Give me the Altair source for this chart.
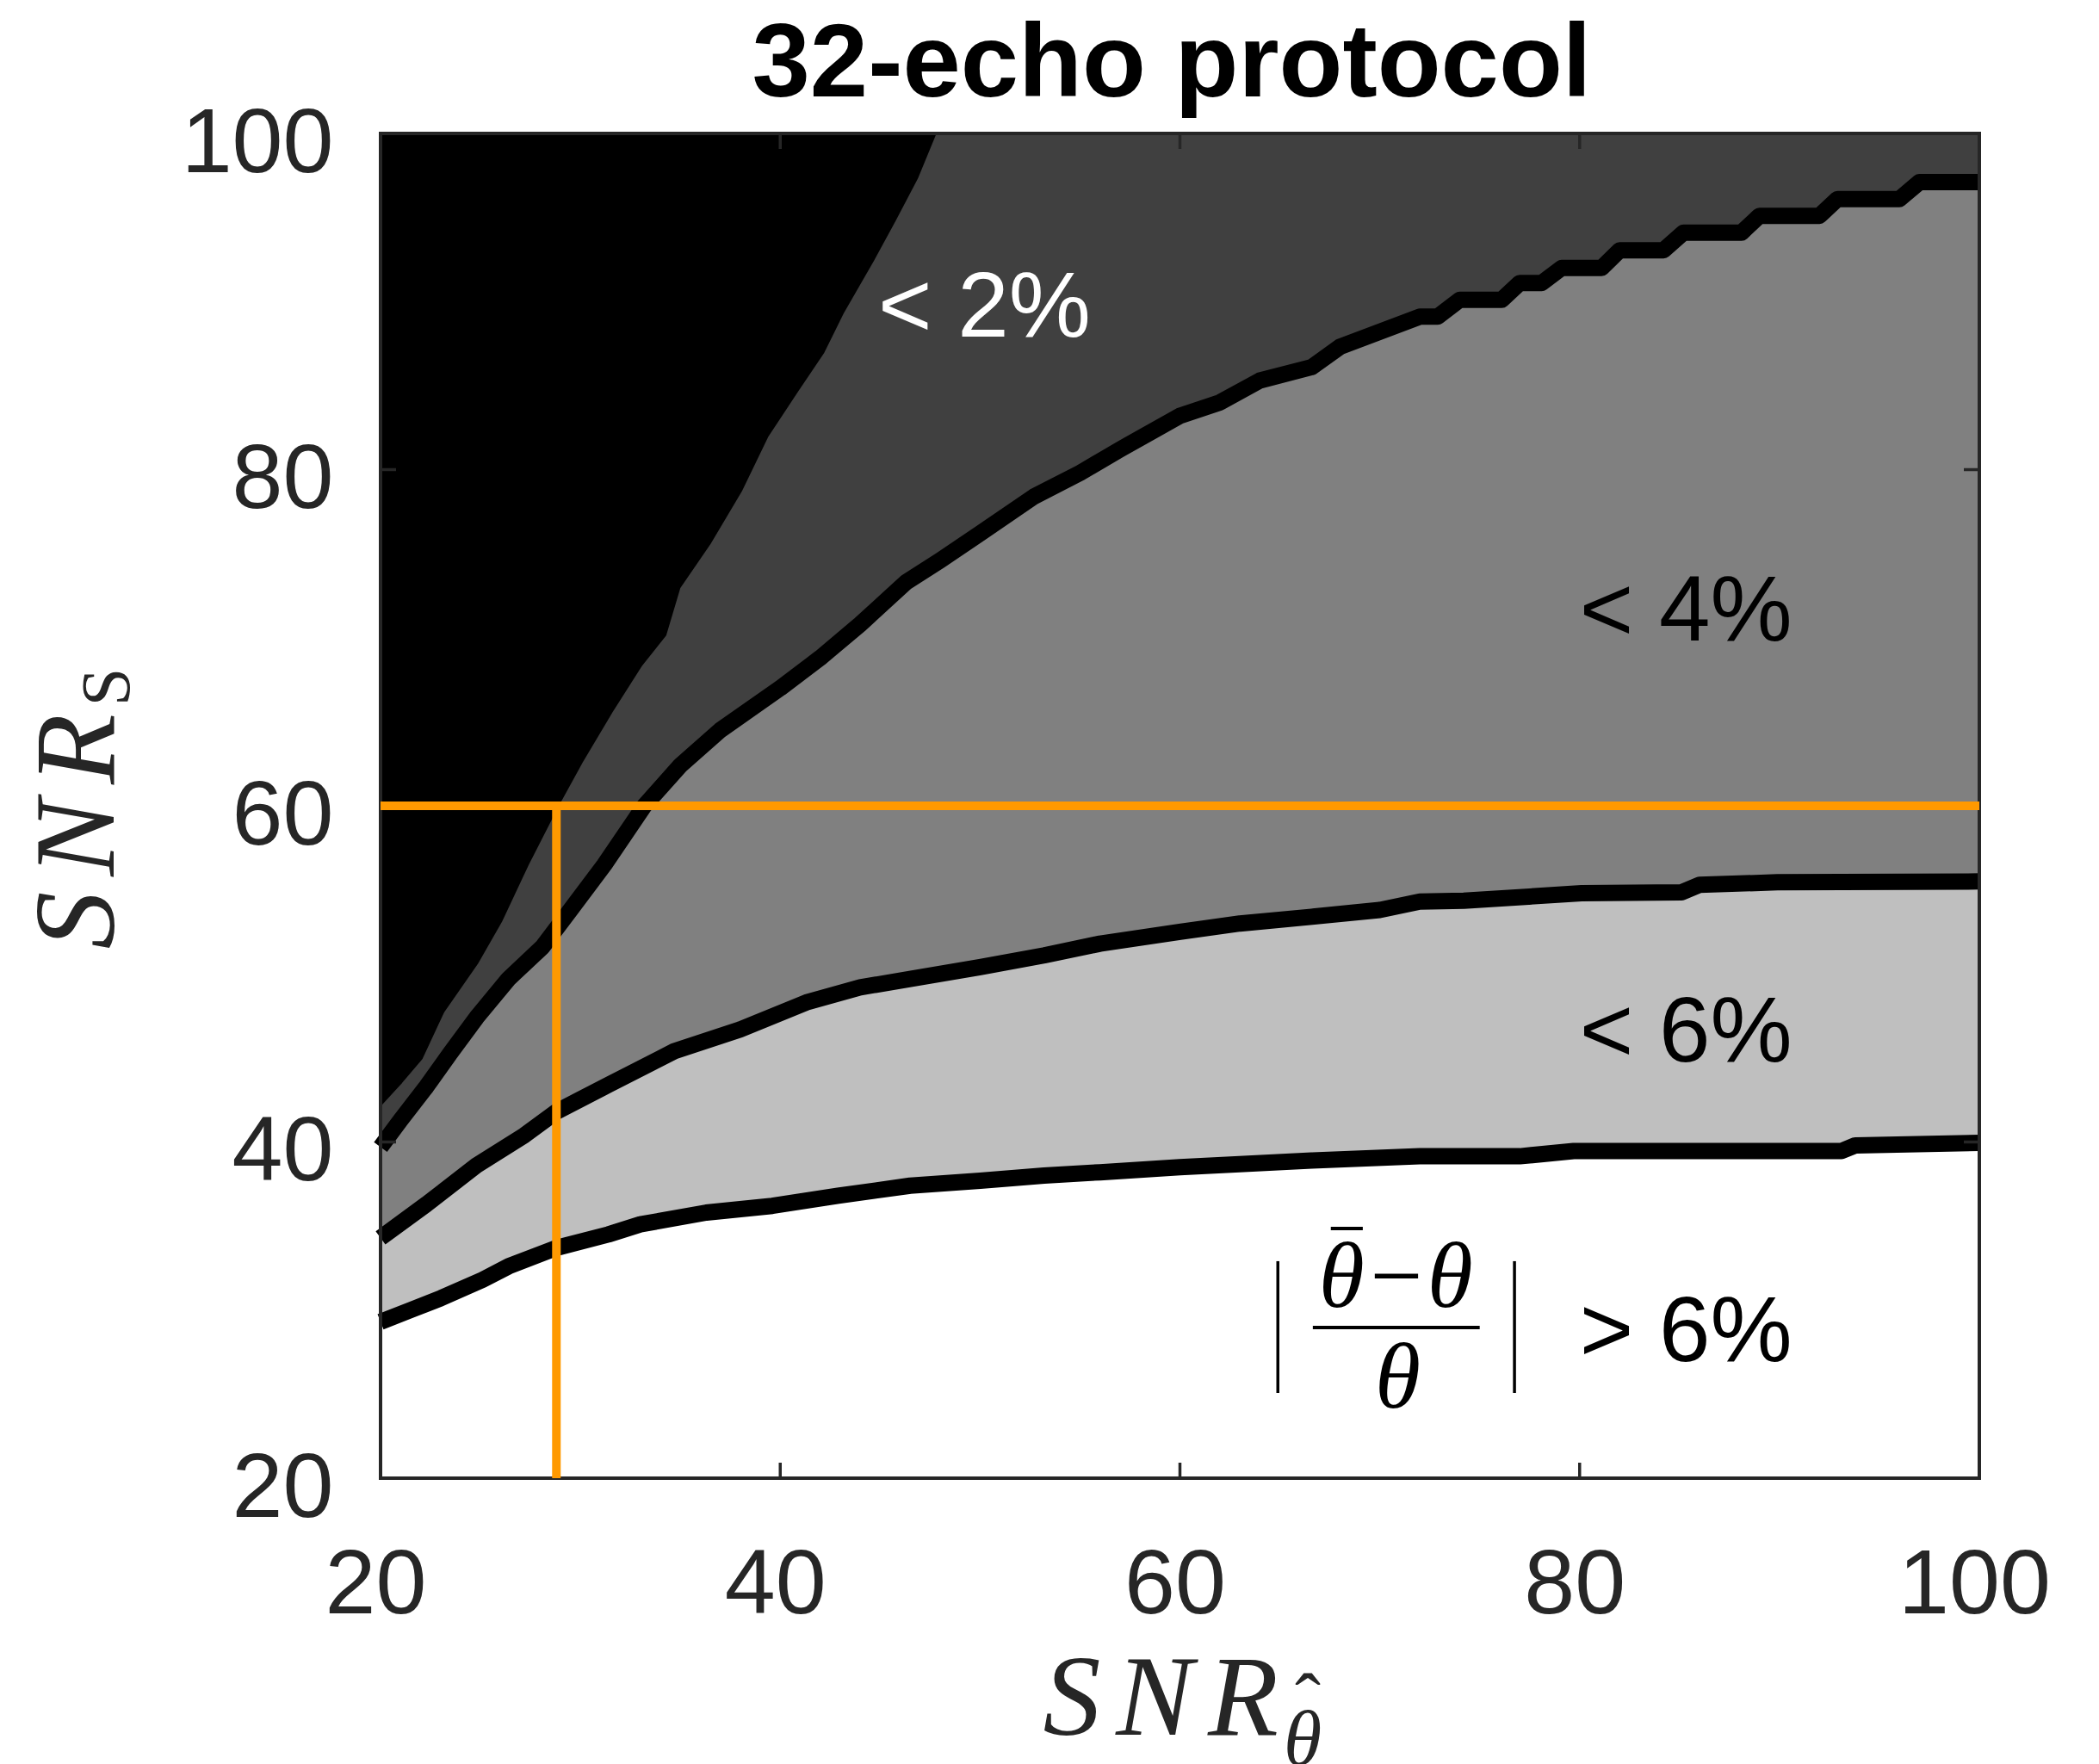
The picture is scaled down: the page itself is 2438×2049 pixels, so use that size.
import altair as alt
import pandas as pd

# ---------------- data ----------------
x_ticks = [20, 40, 60, 80, 100]
y_ticks = [20, 40, 60, 80, 100]

# boundary of the black (< 2%) region
a_x = [20, 21, 22, 23.1, 24.8, 26.0, 27.3, 28.8, 30.0, 31.5, 33.0, 34.2, 34.9, 36.4, 38.0, 39.3, 40.8, 42.1, 43.1, 44.6, 45.7, 46.8, 47.7]
a_y = [42.3, 43.6, 45.0, 47.8, 50.7, 53.2, 56.5, 60.0, 62.6, 65.6, 68.4, 70.2, 73.0, 75.6, 78.8, 82.0, 84.7, 87.0, 89.4, 92.5, 94.9, 97.4, 100.0]

# 2% / 4% boundary
b_x = [20, 21, 22.3, 23.5, 24.8, 26.4, 28.1, 29.5, 31.2, 33.2, 35, 37, 40, 42, 44, 46.3, 48, 50, 52.7, 55, 57, 60, 62, 64, 66.6, 68, 70,
       72.0, 72.9, 74.0, 76.1, 77.0, 78.1, 79.1, 81.1, 82.0, 84.2, 85.2, 88.1, 89.0, 92.0, 92.9, 96.0, 97.0, 100]
b_y = [39.7, 41.3, 43.3, 45.3, 47.4, 49.7, 51.6, 53.8, 56.5, 60.0, 62.4, 64.5, 67.0, 68.8, 70.8, 73.3, 74.6, 76.2, 78.4, 79.8, 81.2, 83.2, 84.0, 85.3, 86.1, 87.3, 88.2,
       89.1, 89.1, 90.1, 90.1, 91.1, 91.1, 92.0, 92.0, 93.05, 93.05, 94.1, 94.1, 95.1, 95.1, 96.1, 96.1, 97.1, 97.1]

# 4% / 6% boundary
c_x = [20, 22.3, 24.8, 27.2, 28.8, 31.4, 34.7, 38.0, 41.3, 44.0, 46.5, 50, 53.2, 56, 60, 63, 66.6, 70, 72.0, 74.2, 80.1, 85.1, 86.0, 89.9, 100]
c_y = [34.3, 36.3, 38.6, 40.4, 41.8, 43.4, 45.4, 46.7, 48.3, 49.2, 49.7, 50.4, 51.1, 51.8, 52.5, 53.0, 53.4, 53.8, 54.3, 54.35, 54.8, 54.85, 55.3, 55.45, 55.5]

# 6% boundary
d_x = [20, 21.5, 23.0, 25.1, 26.4, 28.8, 31.4, 33.0, 36.3, 39.6, 42.9, 46.5, 50, 53.2, 56, 60, 66.6, 72.0, 77.0, 79.7, 93.1, 93.8, 100]
d_y = [29.3, 30.0, 30.7, 31.8, 32.6, 33.7, 34.5, 35.1, 35.8, 36.2, 36.8, 37.4, 37.7, 38.0, 38.2, 38.5, 38.9, 39.15, 39.15, 39.46, 39.46, 39.8, 39.95]

# orange reference lines
ref_snr_s = 60
ref_snr_theta = 28.8

region_text = ["< 2%", "< 4%", "< 6%", "> 6%"]
region_x = [44.9, 80.0, 80.0, 80.0]
region_y = [87.9, 69.85, 44.8, 26.95]
region_col = ["white", "black", "black", "black"]

W, H = 1857, 1562

xs = alt.Scale(domain=[20, 100], nice=False, zero=False)
ys = alt.Scale(domain=[20, 100], nice=False, zero=False)

x_axis = alt.Axis(values=x_ticks, title=None, domain=False, ticks=False, tickSize=0, grid=False,
                  labelFont="Liberation Sans", labelFontSize=106, labelColor="#262626",
                  labelPadding=72, labelOffset=-6, labelFlush=False)
y_axis = alt.Axis(values=y_ticks, title=None, domain=False, ticks=False, tickSize=0, grid=False,
                  labelFont="Liberation Sans", labelFontSize=106, labelColor="#262626",
                  labelPadding=55, labelOffset=12, labelFlush=False)


def X(field):
    return alt.X(field, scale=xs, axis=x_axis)


def Y(field):
    return alt.Y(field, scale=ys, axis=y_axis)


def curve_df(xv, yv):
    return pd.DataFrame({"x": xv, "y": yv})


def fill(xv, yv, color):
    return alt.Chart(curve_df(xv, yv)).mark_area(color=color, opacity=1, interpolate="linear").encode(
        x=X("x:Q"), y=Y("y:Q"), y2=alt.datum(100),
    )


def line(xv, yv, width):
    return alt.Chart(curve_df(xv, yv)).mark_line(color="black", strokeWidth=width, strokeJoin="round",
                                                  strokeCap="butt").encode(x=X("x:Q"), y=Y("y:Q"))


fills = [
    fill(d_x, d_y, "#bfbfbf"),
    fill(c_x, c_y, "#808080"),
    fill(b_x, b_y, "#404040"),
    fill(a_x, a_y, "#000000"),
]
lines = [line(a_x, a_y, 5), line(b_x, b_y, 19), line(c_x, c_y, 19), line(d_x, d_y, 19)]

inner_x = pd.DataFrame({"v": x_ticks[1:-1]})
inner_y = pd.DataFrame({"v": y_ticks[1:-1]})
tick_style = dict(color="#262626", strokeWidth=3.5)
ticks = [
    alt.Chart(inner_x).mark_rule(**tick_style).encode(x=X("v:Q"), y=alt.value(H), y2=alt.value(H - 18)),
    alt.Chart(inner_x).mark_rule(**tick_style).encode(x=X("v:Q"), y=alt.value(0), y2=alt.value(18)),
    alt.Chart(inner_y).mark_rule(**tick_style).encode(y=Y("v:Q"), x=alt.value(0), x2=alt.value(18)),
    alt.Chart(inner_y).mark_rule(**tick_style).encode(y=Y("v:Q"), x=alt.value(W - 18), x2=alt.value(W)),
]

frame = alt.Chart(pd.DataFrame({"k": [0]})).mark_rect(fillOpacity=0, stroke="#262626", strokeWidth=4).encode(
    x=alt.value(0), x2=alt.value(W), y=alt.value(0), y2=alt.value(H))

orange = "#ff9900"
h_ref = alt.Chart(pd.DataFrame({"y": [ref_snr_s], "x1": [20], "x2": [100]})).mark_rule(color=orange, strokeWidth=10).encode(
    x=X("x1:Q"), x2="x2:Q", y=Y("y:Q"))
v_ref = alt.Chart(pd.DataFrame({"x": [ref_snr_theta], "y1": [20], "y2": [ref_snr_s]})).mark_rule(color=orange, strokeWidth=10).encode(
    x=X("x:Q"), y=Y("y1:Q"), y2="y2:Q")

labels = alt.Chart(pd.DataFrame({"t": region_text, "x": region_x, "y": region_y, "c": region_col})).mark_text(
    font="Liberation Sans", fontSize=107, align="left", baseline="alphabetic").encode(
    x=X("x:Q"), y=Y("y:Q"), text="t:N", color=alt.Color("c:N", scale=None))

# |(theta_bar - theta)/theta| formula
math_font = dict(font="Liberation Serif", fontStyle="italic", fontSize=108, align="center",
                 baseline="alphabetic", color="black")
frac_num = alt.Chart(pd.DataFrame({"t": ["\u03b8\u2212\u03b8"], "x": [70.8], "y": [30.2]})).mark_text(**math_font).encode(
    x=X("x:Q"), y=Y("y:Q"), text="t:N")
frac_den = alt.Chart(pd.DataFrame({"t": ["\u03b8"], "x": [70.9], "y": [24.2]})).mark_text(**math_font).encode(
    x=X("x:Q"), y=Y("y:Q"), text="t:N")
bar_marks = alt.Chart(pd.DataFrame({"x1": [66.65, 67.55], "x2": [75.0, 69.15], "y": [28.96, 34.85]})).mark_rule(
    color="black", strokeWidth=4).encode(x=X("x1:Q"), x2="x2:Q", y=Y("y:Q"))
abs_bars = alt.Chart(pd.DataFrame({"x": [64.9, 76.74], "y1": [25.07, 25.07], "y2": [32.91, 32.91]})).mark_rule(
    color="black", strokeWidth=3.5).encode(x=X("x:Q"), y=Y("y1:Q"), y2="y2:Q")

one = pd.DataFrame({"k": [0]})


def glyph(text, px, py, size, italic=True, angle=0, color="#262626", align="center", weight="normal", font="Liberation Serif"):
    props = dict(text=text, font=font, fontSize=size, align=align, baseline="alphabetic",
                 color=color, angle=angle, fontWeight=weight)
    if italic:
        props["fontStyle"] = "italic"
    return alt.Chart(one).mark_text(**props).encode(x=alt.value(px), y=alt.value(py))


title = glyph("32-echo protocol", 919, -43, 121, italic=False, color="black", weight="bold", font="Liberation Sans")

# x-axis title: S N R with subscript theta-hat
x_title = [
    glyph("S", 803, 1860, 134), glyph("N", 899, 1860, 134), glyph("R", 1002, 1860, 134),
    glyph("\u03b8", 1071, 1895, 90), glyph("\u02c6", 1077, 1852, 90, italic=False),
]
# y-axis title: S N R with subscript S (rotated)
y_title = [
    glyph("S", -310, 914, 134, angle=270), glyph("N", -310, 818, 134, angle=270), glyph("R", -310, 715, 134, angle=270),
    glyph("S", -292, 643, 80, italic=False, angle=270),
]

chart = alt.layer(
    *fills, *lines, *ticks, frame, h_ref, v_ref, labels,
    frac_num, frac_den, bar_marks, abs_bars, title, *x_title, *y_title,
).properties(
    width=W, height=H,
    autosize=alt.AutoSizeParams(type="none"),
    padding={"left": 442, "top": 155, "right": 139, "bottom": 332},
    background="white",
).configure_view(strokeWidth=0)

chart.save("out.html", embed_options={"renderer": "svg", "actions": False})
